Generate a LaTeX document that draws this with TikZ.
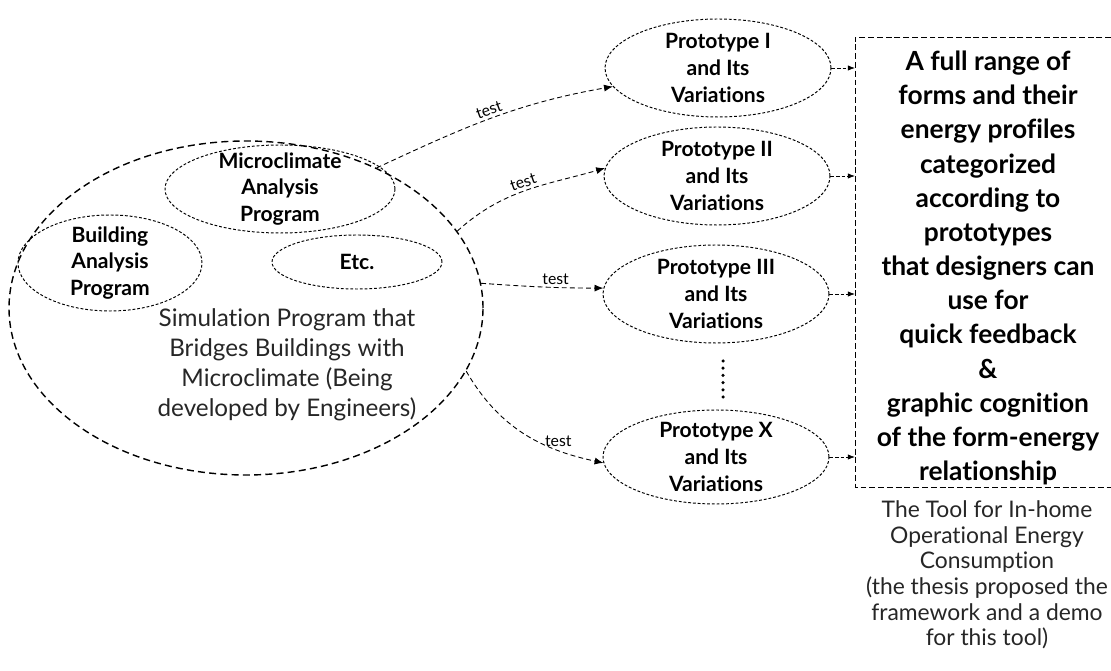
\documentclass[tikz,border=0pt]{standalone}
\usepackage{fontspec}
\setmainfont{Lato}[Ligatures=NoCommon]
\usetikzlibrary{arrows.meta, shapes.geometric}

\begin{document}
\begin{tikzpicture}[>={Latex[length=5pt,width=4pt]},
  ring/.style={ellipse, draw, inner sep=0pt, dash pattern=on 1.6pt off 1.1pt, line width=0.55pt},
  bigring/.style={ellipse, draw, inner sep=0pt, dash pattern=on 4pt off 2.4pt, line width=0.8pt, minimum width=9.48cm, minimum height=6.68cm},
  progtext/.style={font=\bfseries\fontsize{12}{15.3}\selectfont, align=center, inner sep=0pt},
  protoring/.style={ring, minimum width=4.52cm, minimum height=1.96cm},
  lighttext/.style={font=\fontsize{13.8}{17}\selectfont, align=center, inner sep=0pt},
  testarrow/.style={->, dash pattern=on 2.8pt off 1.8pt, line width=0.5pt},
  testlabel/.style={font=\fontsize{9}{10}\selectfont, inner sep=1.5pt},
  feedarrow/.style={->, >={Latex[length=4pt,width=3pt]}, dash pattern=on 2pt off 1.2pt, line width=0.45pt},
  boxline/.style={dash pattern=on 3.4pt off 1.6pt, line width=0.5pt}]
\useasboundingbox (0,0) rectangle (22.22,13.42);
% simulation program and its parts
\node[bigring] (sim) at (4.92,7.26) {};
\node[ring, minimum width=4.60cm, minimum height=1.76cm, label={[progtext]center:Microclimate\\Analysis\\Program}] (micro) at (5.60,9.64) {};
\node[ring, minimum width=3.68cm, minimum height=1.92cm, label={[progtext]center:Building\\Analysis\\Program}] (bldg) at (2.20,8.16) {};
\node[ring, minimum width=3.40cm, minimum height=1.08cm, label={[progtext]center:Etc.}] (etc) at (7.14,8.18) {};
\node[lighttext, text=black!85] (simtxt) at (5.74,6.12) {Simulation Program that\\Bridges Buildings with\\Microclimate (Being\\developed by Engineers)};
% prototypes
\node[protoring, label={[progtext]center:Prototype I\\and Its\\Variations}] (p1) at (14.36,12.06) {};
\node[protoring, label={[progtext]center:Prototype II\\and Its\\Variations}] (p2) at (14.34,9.90) {};
\node[protoring, label={[progtext]center:Prototype III\\and Its\\Variations}] (p3) at (14.32,7.54) {};
\node[protoring, minimum height=1.88cm, label={[progtext]center:Prototype X\\and Its\\Variations}] (px) at (14.32,4.28) {};
\foreach \k in {0,...,5} \fill (14.46,5.48+0.144*\k) circle (0.035);
% test arrows
\draw[testarrow] (sim.47) to[out=25, in=190] node[testlabel, above, sloped] {test} (p1.190);
\draw[testarrow] (sim.20) to[out=42, in=196] node[testlabel, above, sloped] {test} (p2.176);
\draw[testarrow] (sim.6) to[out=-4, in=180] node[testlabel, above, pos=0.62] {test} (p3.177);
\draw[testarrow] (sim.-16) to[out=-60, in=168] node[testlabel, above, pos=0.74] {test} (px.183);
% result box
\coordinate (boxnw) at (17.10,12.68);
\coordinate (boxsw) at (17.10,3.68);
\draw[boxline] (22.4,12.68) -- (boxnw) -- (boxsw) -- (22.4,3.68);
\node[font=\bfseries\fontsize{15}{19.45}\selectfont, align=center, inner sep=0pt] (range) at (19.76,8.06) {A full range of\\forms and their\\energy profiles\\categorized\\according to\\prototypes\\that designers can\\use for\\quick feedback\\\&\\graphic cognition\\of the form-energy\\relationship};
\foreach \p in {p1,p2,p3,px}
  \draw[feedarrow] (\p.east) -- (\p.east -| boxnw);
\node[font=\fontsize{13}{14.6}\selectfont, align=center, inner sep=0pt, text=black!85] (tool) at (19.74,1.92) {The Tool for In-home\\Operational Energy\\Consumption\\(the thesis proposed the\\framework and a demo\\for this tool)};
\end{tikzpicture}
\end{document}
